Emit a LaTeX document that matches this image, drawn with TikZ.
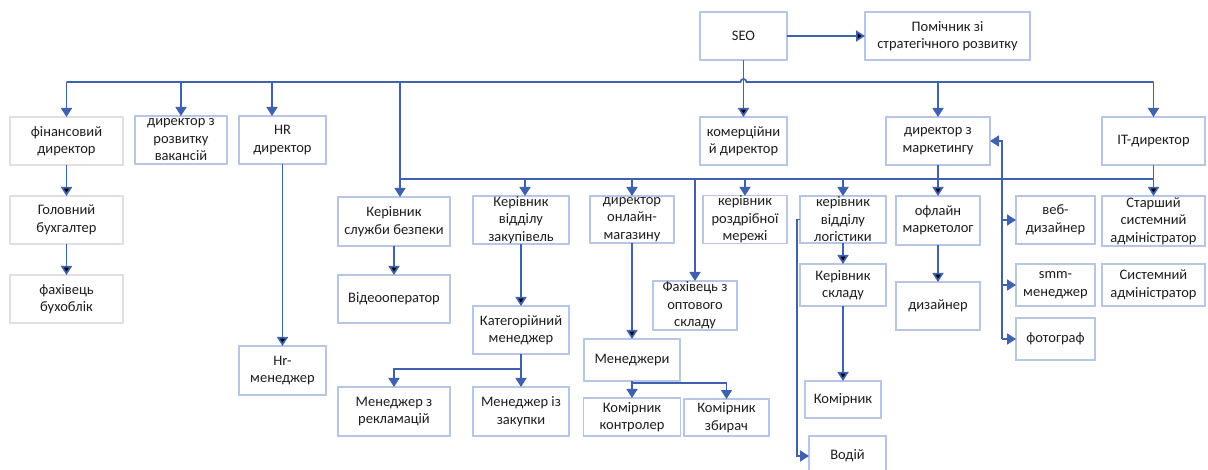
\documentclass[tikz,border=0pt]{standalone}
\usepackage{fontspec}
\setmainfont{Carlito}
\usepackage{xcolor}
\definecolor{lnc}{RGB}{64,96,176}
\definecolor{boxc}{RGB}{184,198,230}
\definecolor{greyc}{RGB}{224,224,228}
\definecolor{txt}{RGB}{30,30,30}
\usepackage{tikz}
\usetikzlibrary{arrows.meta}
\usetikzlibrary{calc}

\begin{document}
\begin{tikzpicture}[x=1pt,y=-1pt,every node/.style={inner sep=0,outer sep=0,align=center,text=txt,font=\fontsize{14.5}{17.5}\selectfont},
  box/.style={draw=boxc,line width=1.2pt},
  gbox/.style={draw=greyc,line width=1.2pt},
  sz/.style 2 args={minimum width=#1,minimum height=#2},
  link/.style={draw=lnc,line width=1.7pt},
  arr/.style={link,-{Triangle[length=9pt,width=11pt]}}]
	\fill[white] (0,0) rectangle (1208,470);
	\useasboundingbox (0,0) rectangle (1208,470);
	% top
	\node (seo) [box,sz={87}{48}] at (743.5,36) {SEO};
	\node (asst) [box,sz={165}{48}] at (947.5,36) {Помічник зі\\стратегічного розвитку};
	% directors
	\node (fin) [gbox,sz={113}{48}] at (66.5,141) {фінансовий\\директор};
	\node (vac) [box,sz={92}{48}] at (181,140) {директор з\\розвитку\\вакансій};
	\node (hr) [box,sz={87}{48}] at (282.5,140) {HR\\директор};
	\node (com) [box,sz={87}{48}] at (743.5,141) {комерційни\\й директор};
	\node (mkt) [box,sz={104}{48}] at (938,141) {директор з\\маркетингу};
	\node (it) [box,sz={103}{48}] at (1153.5,141) {IT-директор};
	% finance, hr
	\node (acc) [gbox,sz={113}{48}] at (66.5,220) {Головний\\бухгалтер};
	\node (buh) [gbox,sz={113}{48}] at (66.5,299) {фахівець\\бухоблік};
	\node (hrm) [box,sz={87}{49}] at (282.5,370.5) {Hr-\\менеджер};
	% security, purchasing
	\node (sec) [box,sz={112}{49}] at (394,221.5) {Керівник\\служби безпеки};
	\node (vid) [box,sz={112}{48}] at (394,299) {Відеооператор};
	\node (rec) [box,sz={112}{49}] at (394,411.5) {Менеджер з\\рекламацій};
	\node (pur) [box,sz={96}{48}] at (521,220) {Керівник\\відділу\\закупівель};
	\node (cat) [box,sz={96}{48}] at (521,330) {Категорійний\\менеджер};
	\node (zak) [box,sz={96}{49}] at (521,411.5) {Менеджер із\\закупки};
	% online shop
	\node (onl) [box,sz={84}{47}] at (632,219.5) {директор\\онлайн-\\магазину};
	\node (mgr) [box,sz={96}{42}] at (632,360) {Менеджери};
	\node (ctl) [box,sz={97}{38}] at (632,417) {Комірник\\контролер};
	\node (pick) [box,sz={85}{37}] at (726.5,417.5) {Комірник\\збирач};
	\node (whs) [box,sz={84}{49}] at (695,305.5) {Фахівець з\\оптового\\складу};
	\node (ret) [box,sz={84}{47}] at (745,219.5) {керівник\\роздрібної\\мережі};
	% logistics
	\node (log) [box,sz={86}{47}] at (843,219.5) {керівник\\відділу\\логістики};
	\node (stk) [box,sz={86}{42}] at (843,285) {Керівник\\складу};
	\node (kom) [box,sz={76}{37}] at (843,399.5) {Комірник};
	\node (drv) [box,sz={77}{40}] at (847.5,456) {Водій};
	% marketing
	\node (off) [box,sz={84}{49}] at (938,220.5) {офлайн\\маркетолог};
	\node (des) [box,sz={84}{48}] at (938,306) {дизайнер};
	\node (web) [box,sz={79}{48}] at (1055.5,220) {веб-\\дизайнер};
	\node (smm) [box,sz={79}{42}] at (1055.5,285) {smm-\\менеджер};
	\node (phot) [box,sz={79}{42}] at (1055.5,339) {фотограф};
	% IT
	\node (ssa) [box,sz={103}{50}] at (1153.5,221) {Старший\\системний\\адміністратор};
	\node (sa) [box,sz={103}{42}] at (1153.5,285) {Системний\\адміністратор};

	\coordinate (bus1) at (0,82);
	\coordinate (bus2) at (0,179);
	\coordinate (hop) at (seo.south |- bus1);
	\coordinate (hrin) at ([xshift=-10.5]hr.north);
	\coordinate (secin) at ([xshift=6]sec.north);
	\coordinate (purin) at ([xshift=4]pur.north);
	\coordinate (catj) at ($(cat.south)!.45!(zak.north)$);
	\coordinate (mgrj) at ($(mgr.south)+(0,2)$);
	\coordinate (logw) at ($(log.west)+(-3,0)$);
	\coordinate (mt) at ($(mkt.east)+(12,0)$);
	\coordinate (mb) at (mt |- phot.west);

	% buses
	\draw[link] (bus1 -| fin.north) -- ([xshift=-3]hop) arc[start angle=180,end angle=360,radius=3] -- (bus1 -| it.north);
	\draw[link] (secin |- bus2) -- (bus2 -| it.south);
	\draw[arr] (bus1 -| fin.north) -- (fin.north);
	\draw[arr] (bus1 -| vac.north) -- (vac.north);
	\draw[arr] (hrin |- bus1) -- (hrin);
	\draw[arr] (bus1 -| mkt.north) -- (mkt.north);
	\draw[arr] (bus1 -| it.north) -- (it.north);
	\draw[arr] (secin |- bus1) -- (secin);
	\draw[arr] (purin |- bus2) -- (purin);
	\draw[arr] (bus2 -| onl.north) -- (onl.north);
	\draw[arr] (bus2 -| whs.north) -- (whs.north);
	\draw[arr] (bus2 -| ret.north) -- (ret.north);
	\draw[arr] (bus2 -| log.north) -- (log.north);
	\path[arr]
		(seo) edge (asst)
		(seo) edge (com)
		(fin) edge (acc)
		(acc) edge (buh)
		(hr) edge (hrm)
		(sec) edge (vid)
		(pur) edge (cat)
		(onl) edge (mgr)
		(log) edge (stk)
		(stk) edge (kom)
		(mkt) edge (off)
		(off) edge (des)
		(it) edge (ssa);
	% splits
	\draw[link] (cat.south) -- (catj);
	\draw[arr] (catj) -| (rec.north);
	\draw[arr] (catj) -- (zak.north);
	\draw[link] (mgr.south) -- (mgrj);
	\draw[arr] (mgrj) -- (ctl.north);
	\draw[arr] (mgrj) -| (pick.north);
	\draw[arr] (log.west) -- (logw) |- (drv.west);
	\draw[arr] (mb) -- (mt) -- (mkt.east);
	\draw[arr] (mt |- web.west) -- (web.west);
	\draw[arr] (mt |- smm.west) -- (smm.west);
	\draw[arr] (mt |- phot.west) -- (phot.west);
\end{tikzpicture}
\end{document}
